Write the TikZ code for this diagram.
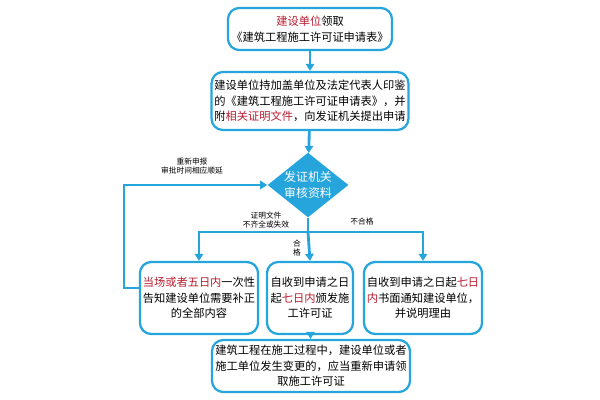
\documentclass[tikz,border=0pt]{standalone}
\usepackage{fontspec}
\setmainfont{Noto Sans CJK SC}
\usetikzlibrary{shapes.geometric,arrows.meta}
\definecolor{flowblue}{RGB}{38,165,220}
\definecolor{flowred}{RGB}{185,30,50}
\tikzset{
  stepbox/.style={draw=flowblue, line width=1.6pt, rounded corners=8pt, fill=white,
    align=center, font=\fontsize{8}{11}\selectfont, inner sep=2pt},
  flow/.style={draw=flowblue, line width=2pt, -{Triangle[length=5pt,width=6pt]}},
  note/.style={font=\fontsize{5.5}{7}\selectfont, align=center},
}
\newcommand{\hl}[1]{\textcolor{flowred}{#1}}
\begin{document}
\begin{tikzpicture}[x=0.025cm,y=-0.025cm]
\useasboundingbox (0,0) rectangle (600,400);
% boxes
\node[stepbox, minimum width=4.1cm, minimum height=1.05cm] (apply) at (310,29)
  {\hl{建设单位}领取\\《建筑工程施工许可证申请表》};
\node[stepbox, minimum width=4.9cm, minimum height=1.45cm] (submit) at (310,101)
  {建设单位持加盖单位及法定代表人印鉴\\的《建筑工程施工许可证申请表》，并\\附\hl{相关证明文件}，向发证机关提出申请};
\node[diamond, fill=flowblue, text=white, aspect=1.25, inner sep=0pt,
  font=\fontsize{8.5}{11}\selectfont, align=center] (check) at (308,185) {发证机关\\审核资料};
\node[stepbox, minimum width=2.95cm, minimum height=1.8cm] (notify) at (199,298)
  {\hl{当场或者五日内}一次性\\告知建设单位需要补正\\的全部内容};
\node[stepbox, minimum width=2.15cm, minimum height=1.8cm] (grant) at (310,298)
  {自收到申请之日\\起\hl{七日内}颁发施\\工许可证};
\node[stepbox, minimum width=2.9cm, minimum height=1.8cm] (reject) at (423,298)
  {自收到申请之日起\hl{七日}\\\hl{内}书面通知建设单位，\\并说明理由};
\node[stepbox, minimum width=4.95cm, minimum height=1.3cm] (change) at (311,366)
  {建筑工程在施工过程中，建设单位或者\\施工单位发生变更的，应当重新申请领\\取施工许可证};
% junctions
\coordinate (split) at (308,232);
\coordinate (loopL) at (124,288);
% connectors
\draw[flow] (apply) -- (submit);
\draw[flow] (submit) -- (check);
\draw[draw=flowblue, line width=2pt] (check.south) -- (split);
\draw[flow] (split) -| (notify.north);
\draw[flow] (split) -- (grant.north);
\draw[flow] (split) -| (reject.north);
\draw[flow] (notify.west |- loopL) -- (loopL) |- (check.west);
\draw[flow] (grant) -- (change);
% labels
\node[note] (resub) at (192,166) {重新申报\\审批时间相应顺延};
\node[note] (lack) at (266,220) {证明文件\\不齐全或失效};
\node[note] (fail) at (362,222) {不合格};
\node[note] (pass) at (297,248) {合\\格};
\end{tikzpicture}
\end{document}
